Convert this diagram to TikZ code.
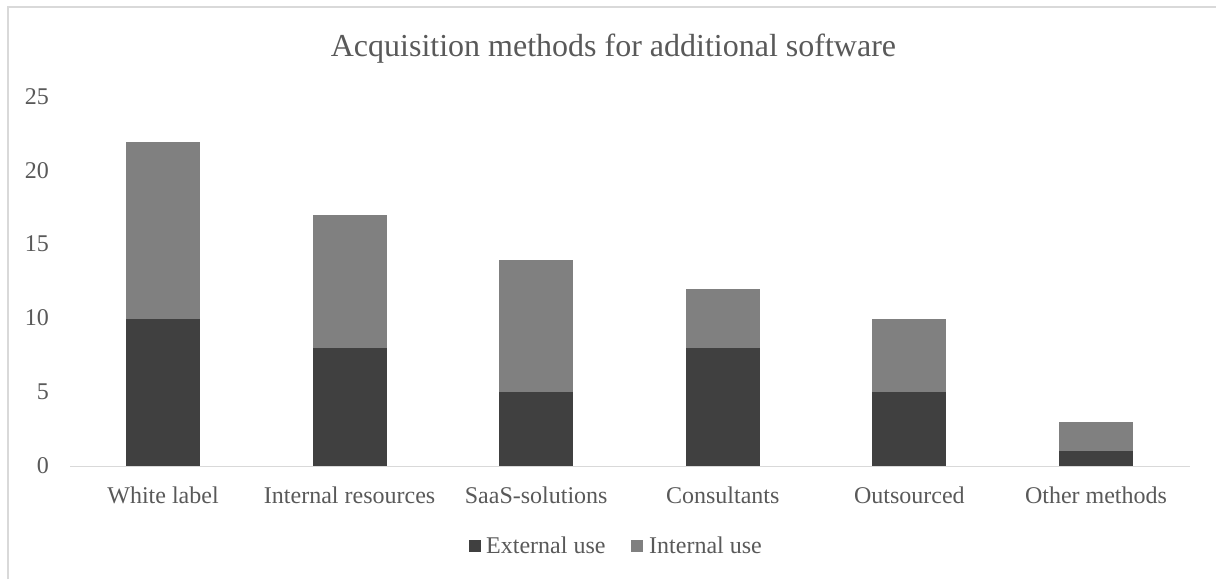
\documentclass[tikz,border=0pt]{standalone}
\usepackage{fontspec}
\setmainfont{Liberation Serif}
\definecolor{extc}{HTML}{404040}
\definecolor{intc}{HTML}{808080}
\definecolor{txtc}{HTML}{595959}
\definecolor{gridc}{HTML}{D9D9D9}
\begin{document}
\begin{tikzpicture}[x=1pt,y=-1pt,
  lbl/.style={text=txtc,font=\fontsize{24}{28}\selectfont,inner sep=0pt},
  ttl/.style={text=txtc,font=\fontsize{32}{38}\selectfont,inner sep=0pt},
  frame/.style={draw=gridc,line width=1.5pt},
  extbar/.style={fill=extc},
  intbar/.style={fill=intc}]
\useasboundingbox (0,0) rectangle (1216,579);
% chart frame (top and left edges visible)
\draw[frame] (8,579) -- (8,7) -- (1216,7);
% title
\node[ttl,anchor=base] (title) at (613.5,56.7) {Acquisition methods for additional software};
% axis line
\coordinate (axl) at (70,466.5);
\coordinate (axr) at (1190,466.5);
\draw[frame] (axl) -- (axr);
% y tick labels
\foreach \v in {0,5,10,15,20,25}{
  \node[lbl,anchor=base east] (y\v) at (49,{473-14.75*\v}) {\v};
}
% bars
\foreach \i/\e/\n/\name in {0/10/12/White label,1/8/9/Internal resources,2/5/9/SaaS-solutions,3/8/4/Consultants,4/5/5/Outsourced,5/1/2/Other methods}{
  \pgfmathsetmacro{\cx}{163+186.6*\i}
  \fill[extbar] ({\cx-37},466) rectangle ({\cx+37},{466-14.75*\e});
  \fill[intbar] ({\cx-37},{466-14.75*\e}) rectangle ({\cx+37},{466-14.75*(\e+\n)});
  \node[lbl,anchor=base] (cat\i) at (\cx,503) {\name};
}
% legend
\fill[extbar] (469,540) rectangle (481,552);
\node[lbl,anchor=base west] (legext) at (486,553) {External use};
\fill[intbar] (631,540) rectangle (643,552);
\node[lbl,anchor=base west] (legint) at (649,553) {Internal use};
\end{tikzpicture}
\end{document}
